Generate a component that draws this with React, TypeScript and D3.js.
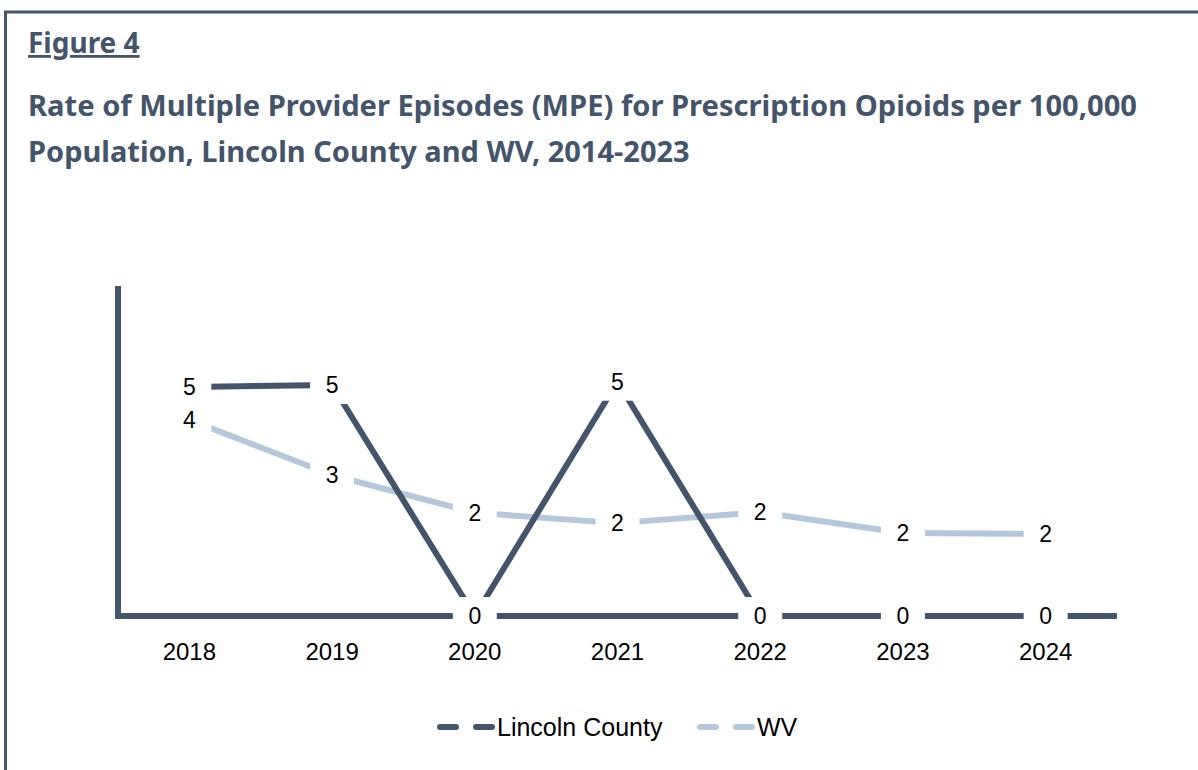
import React, { useEffect, useRef } from 'react';
import * as d3 from 'd3';

// chart data
const years = ['2018', '2019', '2020', '2021', '2022', '2023', '2024'];
const lincolnValues = [4.86, 4.9, 0, 4.97, 0, 0, 0];
const wvValues = [4.16, 2.99, 2.19, 1.97, 2.2, 1.76, 1.74];
const seriesNames = ['Lincoln County', 'WV'];
const seriesColors = ['#44546a', '#b4c7db'];

const App = () => {
  const svgRef = useRef<SVGSVGElement>(null);

  useEffect(() => {
    const svg = d3.select(svgRef.current);
    svg.selectAll('*').remove();

    var W = 1198;
    var H = 770;

    // outer frame (runs off the right & bottom edges)
    svg.append('rect')
      .attr('x', 5.5).attr('y', 12)
      .attr('width', W + 20).attr('height', H + 20)
      .attr('fill', 'white')
      .attr('stroke', '#44546a')
      .attr('stroke-width', 3);

    // heading
    svg.append('text')
      .attr('x', 28).attr('y', 53)
      .attr('font-family', 'Noto Sans, sans-serif')
      .attr('font-weight', 'bold')
      .attr('font-size', 28)
      .attr('fill', '#44546a')
      .attr('text-decoration', 'underline')
      .text('Figure 4');

    const titleLines = [
      'Rate of Multiple Provider Episodes (MPE) for Prescription Opioids per 100,000',
      'Population, Lincoln County and WV, 2014-2023'
    ];
    const titleWidths = [1109, 0];
    svg.selectAll('.title')
      .data(titleLines)
      .enter()
      .append('text')
      .attr('class', 'title')
      .attr('x', 28)
      .attr('y', (d, i) => 116 + i * 46)
      .attr('font-family', 'Noto Sans, sans-serif')
      .attr('font-weight', 'bold')
      .attr('font-size', 29)
      .attr('fill', '#44546a')
      .each(function (d, i) {
        if (titleWidths[i]) d3.select(this).attr('textLength', titleWidths[i]).attr('lengthAdjust', 'spacingAndGlyphs');
      })
      .text(d => d);

    const x0 = 118, x1 = 1117;
    const yBottom = 616, yTop = 286;

    const XScale = d3.scalePoint().domain(years).range([x0, x1]).padding(0.5);
    const YScale = d3.scaleLinear().domain([0, 7]).range([yBottom, yTop]);

    // axes (drawn as plain thick lines like the original)
    svg.append('line')
      .attr('x1', x0).attr('x2', x0)
      .attr('y1', yTop).attr('y2', yBottom + 3)
      .attr('stroke', '#44546a').attr('stroke-width', 6);
    svg.append('line')
      .attr('x1', x0 - 3).attr('x2', x1)
      .attr('y1', yBottom).attr('y2', yBottom)
      .attr('stroke', '#44546a').attr('stroke-width', 6);

    // x tick labels
    svg.selectAll('.xtick')
      .data(years)
      .enter()
      .append('text')
      .attr('class', 'xtick')
      .attr('x', d => XScale(d))
      .attr('y', 660)
      .attr('text-anchor', 'middle')
      .attr('font-family', 'Liberation Sans, Arial, sans-serif')
      .attr('font-size', 24)
      .attr('fill', '#000')
      .text(d => d);

    const allSeries = [wvValues, lincolnValues];
    const allColors = [seriesColors[1], seriesColors[0]];

    const line = d3.line<number>()
      .x((d, i) => XScale(years[i]) as number)
      .y(d => YScale(d));

    allSeries.forEach((vals, s) => {
      svg.append('path')
        .attr('d', line(vals))
        .attr('fill', 'none')
        .attr('stroke', allColors[s])
        .attr('stroke-width', 6)
        .attr('stroke-linejoin', 'round');
    });

    // data labels with white boxes
    allSeries.forEach((vals) => {
      const g = svg.append('g');
      vals.forEach((v, i) => {
        const cx = XScale(years[i]) as number;
        const cy = YScale(v);
        g.append('rect')
          .attr('x', cx - 22).attr('y', cy - 19)
          .attr('width', 44).attr('height', 38)
          .attr('fill', 'white');
        g.append('text')
          .attr('x', cx).attr('y', cy + 8)
          .attr('text-anchor', 'middle')
          .attr('font-family', 'Liberation Sans, Arial, sans-serif')
          .attr('font-size', 23)
          .attr('fill', '#000')
          .text(Math.round(v));
      });
    });

    // legend
    const legendX = [437, 697];
    seriesNames.forEach((name, i) => {
      const lg = svg.append('g').attr('transform', `translate(${legendX[i]}, 727)`);
      lg.append('line')
        .attr('x1', 3).attr('x2', 55)
        .attr('y1', 0).attr('y2', 0)
        .attr('stroke', seriesColors[i])
        .attr('stroke-width', 6)
        .attr('stroke-linecap', 'round')
        .attr('stroke-dasharray', '16 20');
      lg.append('text')
        .attr('x', 60).attr('y', 9)
        .attr('font-family', 'Liberation Sans, Arial, sans-serif')
        .attr('font-size', 25)
        .attr('fill', '#000')
        .text(name);
    });
  }, []);

  return (
    <div style={{ position: 'absolute', left: 0, top: 0, width: 1198, height: 770, overflow: 'hidden' }}>
      <svg ref={svgRef} width={1198} height={770}></svg>
    </div>
  );
};

export default App;
